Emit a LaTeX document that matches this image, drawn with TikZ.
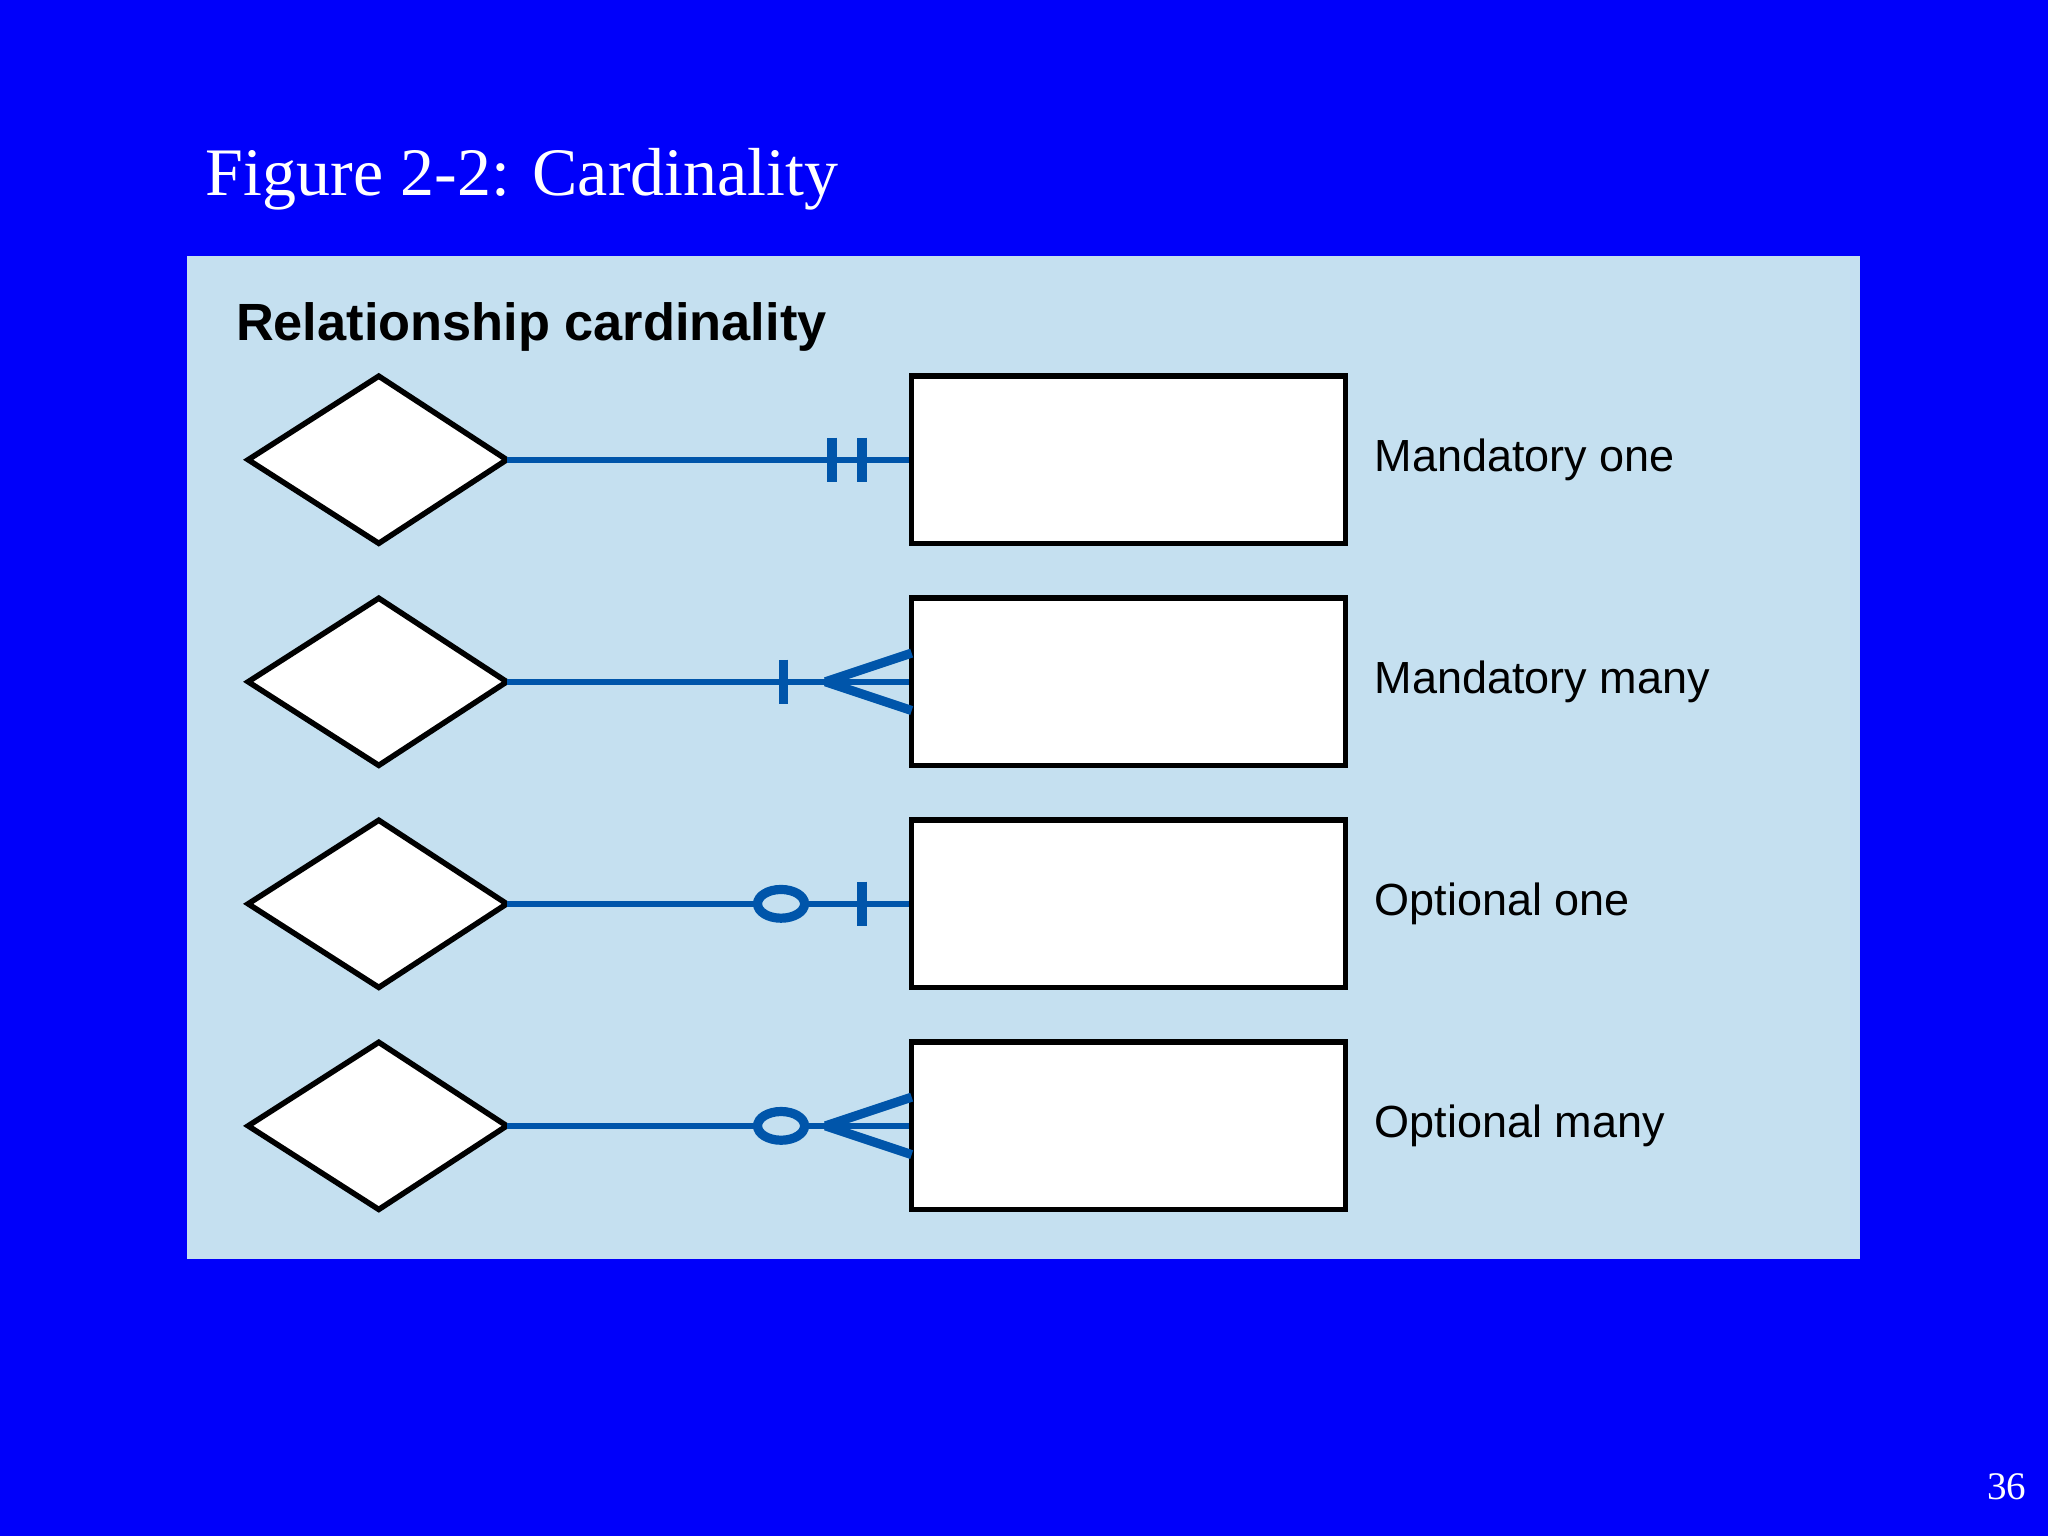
\documentclass[tikz,border=0pt]{standalone}
\usepackage{fontspec}
\setmainfont{Liberation Serif}
\setsansfont{Liberation Sans}
\usetikzlibrary{shapes.geometric}
\definecolor{bg}{RGB}{0,0,250}
\definecolor{panel}{RGB}{197,224,240}
\definecolor{ln}{RGB}{0,85,170}
\begin{document}
\begin{tikzpicture}[x=0.01cm,y=-0.01cm,
  dia/.style={diamond,draw=black,fill=white,line width=1.2pt,minimum width=198\pgflinewidth,inner sep=0pt},
  ent/.style={draw=black,fill=white,line width=1.2pt,minimum width=3.32cm,minimum height=1.28cm,inner sep=0pt},
  conn/.style={draw=ln,line width=1.3pt},
  mk/.style={draw=ln,line width=2pt},
  lab/.style={font=\sffamily\fontsize{9.8}{11}\selectfont,anchor=west}]
\fill[bg] (0,0) rectangle (1568,1176);
\useasboundingbox (0,0) rectangle (1568,1176);
\fill[panel] (143,196) rectangle (1424,964);
\node[anchor=base west,text=white,font=\fontsize{14.8}{16}\selectfont,inner sep=0pt] (title) at (157,150) {Figure 2-2: Cardinality};
\node[anchor=west,font=\sffamily\bfseries\fontsize{11.4}{13}\selectfont,inner sep=0pt] (head) at (180,250) {Relationship cardinality};
\node[anchor=base east,text=white,font=\fontsize{8.5}{10}\selectfont,inner sep=0pt] (pg) at (1552,1148) {36};
\foreach \i/\y/\t in {1/352/Mandatory one,2/522/Mandatory many,3/692/Optional one,4/862/Optional many}{
  \draw[black,line width=1.2pt,fill=white] (190,\y) -- (290,\y-64) -- (388,\y) -- (290,\y+64) -- cycle;
  \coordinate (d\i) at (388,\y);
  \node[ent] (e\i) at (864,\y) {};
  \draw[conn] (d\i) -- (e\i.west);
  \node[lab] (l\i) at (1040,\y) {\t};
}
% row 1
\draw[mk] (637,335) -- (637,369); \draw[mk] (660,335) -- (660,369);
% row 2
\draw[mk] (600,505) -- (600,539);
\draw[mk] (632,522) -- (698,500); \draw[mk] (632,522) -- (698,544);
% row 3
\draw[mk,fill=panel] (598,692) ellipse (18 and 11);
\draw[mk] (660,675) -- (660,709);
% row 4
\draw[mk,fill=panel] (598,862) ellipse (18 and 11);
\draw[mk] (632,862) -- (698,840); \draw[mk] (632,862) -- (698,884);
\end{tikzpicture}
\end{document}
